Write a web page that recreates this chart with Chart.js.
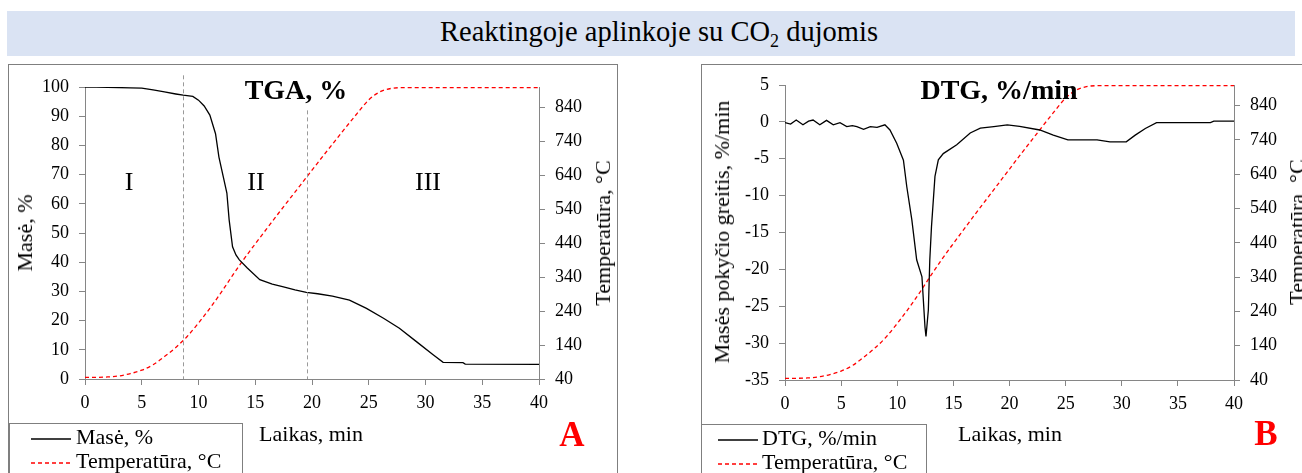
<!DOCTYPE html>
<html>
<head>
<meta charset="utf-8">
<script src="https://cdn.jsdelivr.net/npm/chart.js@4"></script>
<style>
  body { margin: 0; background: #fff; font-family: "Liberation Serif", serif; color: #000; }
  #page { position: relative; width: 1302px; height: 473px; overflow: hidden; }
  .abs { position: absolute; white-space: nowrap; }
  .c { transform: translate(-50%, -50%); }
  .rot { transform: translate(-50%, -50%) rotate(-90deg); }
  #banner { left: 7px; top: 11px; width: 1288px; height: 45px; background: #dae3f3; }
  .panel { border: 1px solid #7f7f7f; top: 64px; height: 430px; }
  .legend { border: 1px solid #7f7f7f; background: #fff; height: 70px; }
  canvas { position: absolute; }
</style>
</head>
<body>
<div id="page">
  <div id="banner" class="abs"></div>
  <div class="abs c" style="left:659px;top:34px;font-size:28.5px;">Reaktingoje aplinkoje su CO<sub style="font-size:18px;">2</sub> dujomis</div>

  <div class="abs panel" style="left:8px;width:608px;"></div>
  <div class="abs panel" style="left:701px;width:700px;"></div>

  <canvas id="tgaChart"></canvas>
  <canvas id="dtgChart"></canvas>

  <!-- TGA panel texts -->
  <div class="abs c" style="left:296px;top:90px;font-size:28px;font-weight:bold;">TGA, %</div>
  <div class="abs c" style="left:129px;top:182px;font-size:26px;">I</div>
  <div class="abs c" style="left:256px;top:182px;font-size:26px;">II</div>
  <div class="abs c" style="left:428px;top:182px;font-size:26px;">III</div>
  <div class="abs rot" style="left:25px;top:233px;font-size:22px;">Masė, %</div>
  <div class="abs rot" style="left:603px;top:233px;font-size:22px;">Temperatūra, °C</div>
  <div class="abs c" style="left:311px;top:434px;font-size:22px;">Laikas, min</div>
  <div class="abs c" style="left:572px;top:435px;font-size:35px;font-weight:bold;color:#ff0000;">A</div>
  <div class="abs legend" style="left:9px;top:423px;width:232px;">
    <svg class="abs" style="left:21px;top:13px;" width="40" height="4"><line x1="0" y1="2" x2="40" y2="2" stroke="#000" stroke-width="1.3"/></svg>
    <div class="abs" style="left:66px;top:0px;font-size:22px;">Masė, %</div>
    <svg class="abs" style="left:21px;top:37px;" width="40" height="4"><line x1="0" y1="2" x2="40" y2="2" stroke="#ff0000" stroke-width="1.3" stroke-dasharray="4 3"/></svg>
    <div class="abs" style="left:66px;top:24px;font-size:22px;">Temperatūra, °C</div>
  </div>

  <!-- DTG panel texts -->
  <div class="abs c" style="left:999px;top:90px;font-size:28px;font-weight:bold;">DTG, %/min</div>
  <div class="abs rot" style="left:722px;top:232px;font-size:22px;">Masės pokyčio greitis, %/min</div>
  <div class="abs rot" style="left:1297px;top:232px;font-size:22px;">Temperatūra, °C</div>
  <div class="abs c" style="left:1010px;top:434px;font-size:22px;">Laikas, min</div>
  <div class="abs c" style="left:1266px;top:434px;font-size:35px;font-weight:bold;color:#ff0000;">B</div>
  <div class="abs legend" style="left:701px;top:424px;width:224px;">
    <svg class="abs" style="left:16px;top:13px;" width="40" height="4"><line x1="0" y1="2" x2="40" y2="2" stroke="#000" stroke-width="1.3"/></svg>
    <div class="abs" style="left:60px;top:0px;font-size:22px;">DTG, %/min</div>
    <svg class="abs" style="left:16px;top:37px;" width="40" height="4"><line x1="0" y1="2" x2="40" y2="2" stroke="#ff0000" stroke-width="1.3" stroke-dasharray="4 3"/></svg>
    <div class="abs" style="left:60px;top:24px;font-size:22px;">Temperatūra, °C</div>
  </div>
</div>

<script>
// --- DATA ---
const timeTicks = [0, 5, 10, 15, 20, 25, 30, 35, 40];
const tempTicks = [40, 140, 240, 340, 440, 540, 640, 740, 840];
const massTicks = [0, 10, 20, 30, 40, 50, 60, 70, 80, 90, 100];
const dtgTicks = [-35, -30, -25, -20, -15, -10, -5, 0, 5];

const tempTime = [0, 1, 2, 3, 4, 5, 6, 7, 8, 9, 10, 11, 12, 13, 14, 15, 16, 17, 18, 19, 20, 21, 22, 23, 24, 25, 26, 27, 28, 40];
const tempValues = [45, 45, 46, 49, 56, 66, 82, 106, 133, 165, 205, 248, 295, 345, 393, 438, 482, 526, 569, 612, 655, 698, 740, 782, 823, 862, 886, 896, 898, 898];

const massTime = [0, 1, 2, 3, 4, 5, 6, 7, 8, 8.65, 9.5, 10, 10.5, 11, 11.5, 11.8, 12.2, 12.5, 12.7, 13, 13.3, 13.6, 14.3, 15.4, 16.5, 17.4, 18.5, 19.5, 20.5, 21.8, 23.3, 24.8, 26.3, 27.7, 29.2, 30.7, 31.55, 33.3, 33.5, 40];
const massValues = [100, 100, 99.9, 99.8, 99.7, 99.6, 99, 98.3, 97.6, 97.2, 96.8, 95.5, 93.5, 90.4, 84, 76, 69, 63.7, 54.5, 45.3, 42.5, 40.8, 38, 34, 32.5, 31.6, 30.5, 29.7, 29.2, 28.4, 27, 24.2, 20.8, 17.4, 12.8, 8.2, 5.7, 5.6, 5.1, 5.0];

const dtgTime = [0, 0.5, 1.0, 1.6, 2.1, 2.5, 3.1, 3.7, 4.3, 4.9, 5.5, 6.0, 6.4, 7.0, 7.6, 8.2, 8.9, 9.35, 9.95, 10.55, 10.85, 11.3, 11.73, 12.2, 12.47, 12.56, 12.77, 12.9, 13.05, 13.36, 13.66, 14.1, 15.3, 16.5, 17.4, 18.6, 19.8, 20.9, 22.7, 23.9, 25.2, 27.8, 28.95, 30.4, 31.2, 32.1, 33.1, 37.9, 38.2, 40];
const dtgValues = [-0.1, -0.3, 0.25, -0.4, 0.1, 0.25, -0.4, 0.2, -0.4, -0.1, -0.65, -0.5, -0.65, -1.0, -0.65, -0.75, -0.4, -1.1, -2.9, -5.2, -8.8, -13.3, -18.7, -21, -27.8, -29.1, -25.5, -18.7, -14.2, -7.4, -5.15, -4.3, -3.1, -1.5, -0.85, -0.64, -0.4, -0.6, -1.1, -1.8, -2.45, -2.45, -2.7, -2.7, -1.8, -0.9, -0.1, -0.1, 0.1, 0.1];

// stage boundaries on TGA plot: [time, top of line in mass %]
const stageTimes = [8.65, 19.6];
const stageTops = [104, 92];

const AXIS_GREY = "#868686";
const FONT = { family: "Liberation Serif", size: 18 };

function xy(xs, ys) {
    return xs.map((x, i) => ({ x: x, y: ys[i] }));
}

function fixedTicks(list) {
    return scale => { scale.ticks = list.map(v => ({ value: v })); };
}

function axis(opts) {
    return Object.assign({
        type: "linear",
        border: { color: AXIS_GREY, width: 1 },
        grid: { drawOnChartArea: false, tickLength: 6, color: AXIS_GREY },
        ticks: { font: FONT, color: "#000", padding: 10 }
    }, opts);
}

// dashed stage lines
const stageLines = {
    id: "stageLines",
    afterDatasetsDraw(chart, args, opts) {
        if (!opts.times) return;
        const ctx = chart.ctx, xs = chart.scales.x, ys = chart.scales.y;
        ctx.save();
        ctx.strokeStyle = "#9a9a9a";
        ctx.lineWidth = 1;
        ctx.setLineDash([4, 3]);
        opts.times.forEach((t, i) => {
            const px = Math.round(xs.getPixelForValue(t)) + 0.5;
            ctx.beginPath();
            ctx.moveTo(px, ys.getPixelForValue(opts.tops[i]));
            ctx.lineTo(px, ys.bottom);
            ctx.stroke();
        });
        ctx.restore();
    }
};

function makeChart(id, box, leftW, rightW, padTop, bottomH, main, yMin, yMax, yTicks, withStages) {
    const cv = document.getElementById(id);
    cv.style.left = box.left + "px";
    cv.style.top = box.top + "px";
    cv.width = box.width;
    cv.height = box.height;
    cv.style.width = box.width + "px";
    cv.style.height = box.height + "px";

    return new Chart(cv, {
        type: "line",
        data: {
            datasets: [
                {
                    data: xy(main.t, main.v),
                    borderColor: "#000",
                    borderWidth: 1.3,
                    pointRadius: 0,
                    tension: 0,
                    yAxisID: "y"
                },
                {
                    data: xy(tempTime, tempValues),
                    borderColor: "#ff0000",
                    borderWidth: 1.3,
                    borderDash: [4, 3],
                    pointRadius: 0,
                    cubicInterpolationMode: "monotone",
                    yAxisID: "y2"
                }
            ]
        },
        options: {
            responsive: false,
            animation: false,
            layout: { padding: { top: padTop, left: 0, right: 0, bottom: 0 } },
            plugins: {
                legend: { display: false },
                tooltip: { enabled: false },
                stageLines: withStages ? { times: stageTimes, tops: stageTops } : {}
            },
            scales: {
                x: axis({
                    min: 0, max: 40,
                    afterBuildTicks: fixedTicks(timeTicks),
                    afterFit: s => { s.height = bottomH; },
                    ticks: { font: FONT, color: "#000", padding: 7, maxRotation: 0 }
                }),
                y: axis({
                    position: "left",
                    min: yMin, max: yMax,
                    afterBuildTicks: fixedTicks(yTicks),
                    afterFit: s => { s.width = leftW; }
                }),
                y2: axis({
                    position: "right",
                    min: 40, max: 900,
                    afterBuildTicks: fixedTicks(tempTicks),
                    afterFit: s => { s.width = rightW; }
                })
            }
        },
        plugins: [stageLines]
    });
}

document.addEventListener("DOMContentLoaded", () => {
    // TGA: plot area 85..539 x, 87..379 y
    makeChart("tgaChart", { left: 0, top: 64, width: 640, height: 409 },
        85, 640 - 539, 87 - 64, 409 - (379 - 64),
        { t: massTime, v: massValues }, 0, 100, massTicks, true);

    // DTG: plot area 785..1234 x, 85..380 y
    makeChart("dtgChart", { left: 660, top: 64, width: 642, height: 409 },
        785 - 660, 642 - (1234 - 660), 85 - 64, 409 - (380 - 64),
        { t: dtgTime, v: dtgValues }, -35, 5, dtgTicks, false);
});
</script>
</body>
</html>
